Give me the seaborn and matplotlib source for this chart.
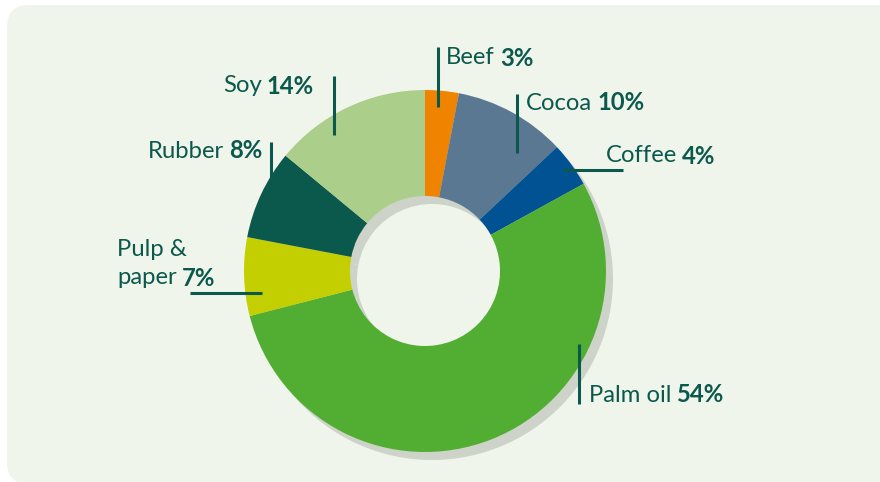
import numpy as np
import matplotlib
matplotlib.use("Agg")
import matplotlib.pyplot as plt
from matplotlib.patches import FancyBboxPatch
import seaborn as sns

# shares of deforestation by commodity (clockwise from top)
categories = ["Beef", "Cocoa", "Coffee", "Palm oil", "Pulp &\npaper", "Rubber", "Soy"]
shares = [3, 10, 4, 54, 7, 8, 14]
palette = ["#f08400", "#5a7892", "#005293", "#52ae32", "#c3cf00", "#0b584c", "#abcf8a"]

sns.set_theme(style="white")
plt.rcParams["font.family"] = ["Lato", "DejaVu Sans"]

W, H = 880, 482
BG = "#f0f5ec"
SHADOW = "#ced3ca"
INK = "#0b584c"
FS = 17.2

fig = plt.figure(figsize=(W / 100, H / 100), dpi=100)
fig.patch.set_facecolor("white")
ax = fig.add_axes([0, 0, 1, 1])


def Y(y):
    return H - y


cx, cy, R, ring = 425, 271, 181, 106

# shadow ring, then the donut itself
ax.pie(shares, colors=[SHADOW] * len(shares), startangle=90, counterclock=False,
       center=(cx + 7, Y(cy + 8)), radius=R, wedgeprops=dict(width=ring, linewidth=0))
ax.pie(shares, colors=palette, startangle=90, counterclock=False,
       center=(cx, Y(cy)), radius=R, wedgeprops=dict(width=ring, linewidth=0))

ax.set_xlim(0, W)
ax.set_ylim(0, H)
ax.set_aspect("equal")
ax.axis("off")

ax.add_patch(FancyBboxPatch((7, Y(484)), 900, 479, boxstyle="round,pad=0,rounding_size=22",
                            fc=BG, ec="none", zorder=0))

# leader lines (x0, y0, x1, y1) in pixel coords
leaders = {
    "Beef": (438, 47, 438, 107),
    "Cocoa": (517, 94, 517, 153),
    "Coffee": (563, 170, 623, 170),
    "Palm oil": (579, 344, 579, 404),
    "Pulp &\npaper": (190, 293, 262, 293),
    "Rubber": (271, 142, 271, 203),
    "Soy": (334, 76, 334, 135),
}
# label anchor: x, y (center), alignment
anchors = {
    "Beef": (446, 58, "left"),
    "Cocoa": (526, 103, "left"),
    "Coffee": (606, 156, "left"),
    "Palm oil": (589, 395, "left"),
    "Pulp &\npaper": (117, 278, "left"),
    "Rubber": (262, 151, "right"),
    "Soy": (314, 86, "right"),
}

for name in categories:
    x0, y0, x1, y1 = leaders[name]
    ax.plot([x0, x1], [Y(y0), Y(y1)], color=INK, lw=2.2, solid_capstyle="butt", zorder=3)

fig.canvas.draw()
renderer = fig.canvas.get_renderer()
gap = 5

for name, val in zip(categories, shares):
    x, y, align = anchors[name]
    pct = f"{val}%"
    lines = name.split("\n")
    last = lines[-1]
    if len(lines) > 1:
        for i, ln in enumerate(lines[:-1]):
            ax.text(x, Y(y - 28 * (len(lines) - 1 - i)), ln, color=INK, fontsize=FS,
                    ha="left", va="center")
    if align == "left":
        t = ax.text(x, Y(y), last, color=INK, fontsize=FS, ha="left", va="center")
        w = t.get_window_extent(renderer).width
        ax.text(x + w + gap, Y(y), pct, color=INK, fontsize=FS, fontweight="bold",
                ha="left", va="center")
    else:
        t = ax.text(x, Y(y), pct, color=INK, fontsize=FS, fontweight="bold",
                    ha="right", va="center")
        w = t.get_window_extent(renderer).width
        ax.text(x - w - gap, Y(y), last, color=INK, fontsize=FS, ha="right", va="center")

fig.savefig("out.png", dpi=100, facecolor="white")
